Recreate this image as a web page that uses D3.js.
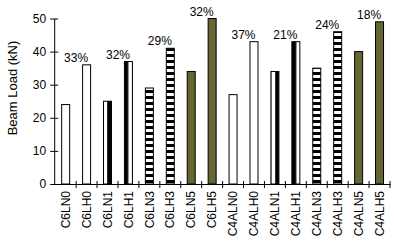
<!DOCTYPE html>
<html>
<head>
<meta charset="utf-8">
<script src="https://cdn.jsdelivr.net/npm/d3@7"></script>
<style>
  body { margin: 0; background: #fff; }
  text { font-family: Arial, "Liberation Sans", sans-serif; font-size: 12px; fill: #000; }
</style>
</head>
<body>
<script>
// beam loads per specimen
var categories = ["C6LN0", "C6LH0", "C6LN1", "C6LH1", "C6LN3", "C6LH3", "C6LN5", "C6LH5",
                  "C4ALN0", "C4ALH0", "C4ALN1", "C4ALH1", "C4ALN3", "C4ALH3", "C4ALN5", "C4ALH5"];
var loads = [24, 36, 25, 37, 29, 41, 34, 50, 27, 43, 34, 43, 35, 46, 40, 49];
// increase from N to H, one per pair
var increase = ["33%", "32%", "29%", "32%", "37%", "21%", "24%", "18%"];
var yTicks = [0, 10, 20, 30, 40, 50];

var width = 394, height = 242;
var margin = {top: 18.5, right: 4, bottom: 58, left: 55.2};

var svg = d3.select("body").append("svg")
    .attr("width", width)
    .attr("height", height);

var defs = svg.append("defs");
var vs = defs.append("pattern").attr("id", "vstripe")
    .attr("patternUnits", "userSpaceOnUse")
    .attr("x", 6.4)
    .attr("width", 8.4).attr("height", 8);
vs.append("rect").attr("width", 8.4).attr("height", 8).attr("fill", "#fff");
vs.append("rect").attr("x", 0).attr("width", 4.3).attr("height", 8).attr("fill", "#000");

var hs = defs.append("pattern").attr("id", "hstripe")
    .attr("patternUnits", "userSpaceOnUse")
    .attr("width", 6).attr("height", 6);
hs.append("rect").attr("width", 6).attr("height", 6).attr("fill", "#fff");
hs.append("rect").attr("height", 3).attr("width", 6).attr("fill", "#000");

var x = d3.scaleBand()
    .domain(categories)
    .range([margin.left, width - margin.right]);

var y = d3.scaleLinear()
    .domain([0, 50])
    .range([height - margin.bottom, margin.top]);

function fillFor(name) {
    var s = name.slice(-1);
    if (s === "0") return "#fff";
    if (s === "1") return "url(#vstripe)";
    if (s === "3") return "url(#hstripe)";
    return "#666633";
}

var barW = 8;
svg.selectAll(".bar").data(categories)
    .enter().append("rect")
    .attr("class", "bar")
    .attr("x", d => x(d) + x.bandwidth() / 2 - barW / 2)
    .attr("y", (d, i) => y(loads[i]))
    .attr("width", barW)
    .attr("height", (d, i) => y(0) - y(loads[i]))
    .attr("fill", d => fillFor(d))
    .attr("stroke", "#000")
    .attr("stroke-width", 1);

// y axis
var yAxis = svg.append("g")
    .attr("transform", "translate(" + (margin.left - 1) + ",0)")
    .call(d3.axisLeft(y).tickValues(yTicks).tickSize(4).tickSizeOuter(0));
yAxis.select(".domain").attr("stroke", "#000");
yAxis.selectAll(".tick line").attr("x2", 4).attr("x1", -4);
yAxis.selectAll(".tick text").attr("x", -8).style("font-size", "12px").style("font-family", "Arial, 'Liberation Sans', sans-serif");

// x axis
var xAxis = svg.append("g")
    .attr("transform", "translate(0," + y(0) + ")")
    .call(d3.axisBottom(x).tickSize(0).tickSizeOuter(0));
xAxis.select(".domain").attr("stroke", "#000");
xAxis.selectAll(".tick text")
    .attr("transform", "rotate(-90)")
    .attr("x", -7).attr("y", 0).attr("dy", "0.35em")
    .style("text-anchor", "end")
    .style("font-size", "12px").style("font-family", "Arial, 'Liberation Sans', sans-serif");

// boundary ticks between categories
var bounds = categories.map(d => x(d) + x.bandwidth()).slice(0, -1);
bounds.push(width - margin.right);
xAxis.selectAll(".bound").data(bounds)
    .enter().append("line")
    .attr("class", "bound")
    .attr("x1", d => d).attr("x2", d => d)
    .attr("y1", -3).attr("y2", 4)
    .attr("stroke", "#000");

// percent labels over each pair
svg.selectAll(".pct").data(increase)
    .enter().append("text")
    .attr("class", "pct")
    .attr("x", (d, i) => x(categories[2 * i + 1]))
    .attr("y", (d, i) => y(Math.max(loads[2 * i], loads[2 * i + 1])) - 3)
    .attr("text-anchor", "middle")
    .text(d => d);

svg.append("text")
    .attr("transform", "translate(17," + 88 + ") rotate(-90)")
    .attr("text-anchor", "middle")
    .style("font-size", "13px")
    .text("Beam Load (kN)");
</script>
</body>
</html>
